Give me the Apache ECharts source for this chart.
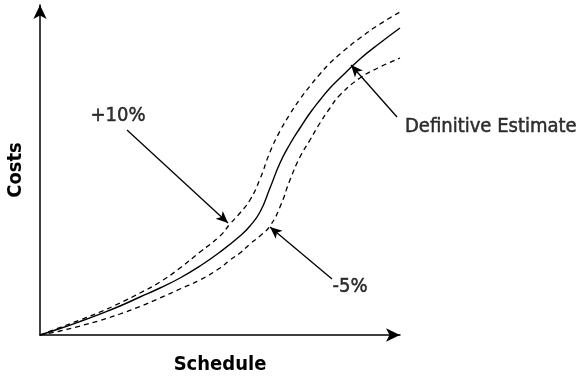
<!DOCTYPE html>
<html>
<head>
<meta charset="utf-8">
<script src="https://cdn.jsdelivr.net/npm/echarts@6/dist/echarts.min.js"></script>
<style>html,body{margin:0;padding:0;background:#fff}#c{width:583px;height:376px}</style>
</head>
<body>
<div id="c"></div>
<script>
// Schedule (x) vs Costs (y), arbitrary units
const definitiveEstimate = [[0,0],[20,6.5],[40,13.5],[60,21],[80,29],[100,38],[120,47],[140,57],[160,69],[180,83],[200,99],[210,109],[220,123],[230,147],[240,172],[250,191],[260,207],[270,222],[280,235],[290,247],[300,257],[320,276],[340,292],[360,307]];
const plus10 = [[0,0],[20,7.5],[40,15],[60,23],[80,32],[100,42],[120,53],[140,67],[160,83],[180,99],[190,111],[200,122],[210,135],[220,156],[230,183],[240,204],[250,221],[260,236],[270,249],[280,261],[290,272],[300,281],[320,297],[340,311],[360,323]];
const minus5 = [[0,0],[20,4],[40,9],[60,14.5],[80,21],[100,28.5],[120,37],[140,46],[160,55],[180,67],[190,75],[200,82],[210,91],[220,99],[230,109],[240,128],[250,155],[260,178],[270,195],[280,212],[290,227],[300,240],[320,257],[340,268],[360,277]];
const annotationTexts = ['+10%', 'Definitive Estimate', '-5%'];
const annotationTextPos = [[78,219],[365,208],[310,48]];
const arrowFrom = [[87,205],[357,218],[292,56]];
const arrowTo = [[188,112],[311,270],[230,108]];
const axisNames = ['Schedule', 'Costs'];

const FONT = "'DejaVu Sans Condensed', 'Liberation Sans Narrow', sans-serif";
const chart = echarts.init(document.getElementById('c'));
const axisCommon = {
  type: 'value', min: 0, nameLocation: 'middle',
  axisLine: { show: true, lineStyle: { color: '#000', width: 1.5 }, symbol: ['none', 'arrow'], symbolSize: [10, 14] },
  axisTick: { show: false }, axisLabel: { show: false }, splitLine: { show: false },
  nameTextStyle: { fontFamily: FONT, fontWeight: 'bold', fontSize: 20, color: '#000' }
};
chart.setOption({
  animation: false,
  grid: { left: 40, top: 5, right: 183, bottom: 41, containLabel: false, outerBoundsMode: 'none' },
  xAxis: Object.assign({}, axisCommon, { max: 360, name: axisNames[0], nameGap: 20 }),
  yAxis: Object.assign({}, axisCommon, { max: 330, name: axisNames[1], nameGap: 14 }),
  series: [
    { type: 'line', data: definitiveEstimate, smooth: 0.5, showSymbol: false, lineStyle: { color: '#000', width: 1.4 } },
    { type: 'line', data: plus10, smooth: 0.5, showSymbol: false, lineStyle: { color: '#000', width: 1.3, type: [5, 4] } },
    { type: 'line', data: minus5, smooth: 0.5, showSymbol: false, lineStyle: { color: '#000', width: 1.3, type: [5, 4] },
      markLine: {
        silent: true, animation: false,
        symbol: ['none', 'arrow'], symbolSize: [8, 12],
        lineStyle: { color: '#000', width: 1.3, type: 'solid' },
        label: { show: false },
        data: arrowFrom.map((p, i) => [{ coord: p }, { coord: arrowTo[i] }])
      }
    },
    { type: 'scatter', clip: false, symbolSize: 1, itemStyle: { color: 'rgba(0,0,0,0)' },
      data: annotationTextPos.map((p, i) => ({ value: p, label: {
        show: true, position: 'inside', formatter: annotationTexts[i],
        align: i === 1 ? 'left' : 'center', verticalAlign: 'middle',
        fontFamily: FONT, fontSize: 20, color: '#000',
        textBorderColor: '#000', textBorderWidth: 0.5 } }))
    }
  ]
});
</script>
</body>
</html>
